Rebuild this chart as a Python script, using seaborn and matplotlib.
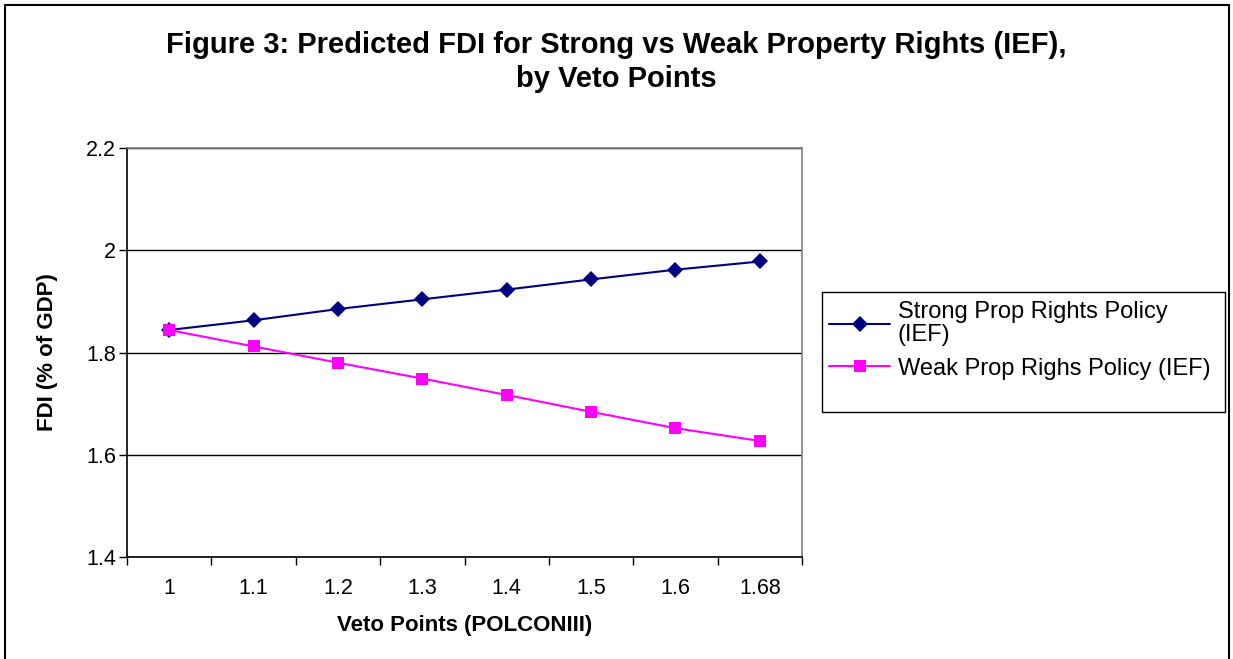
import matplotlib
matplotlib.use("Agg")
import matplotlib.pyplot as plt
import seaborn as sns
import pandas as pd
from matplotlib.patches import Rectangle
from matplotlib.ticker import FixedLocator

veto_points = ["1", "1.1", "1.2", "1.3", "1.4", "1.5", "1.6", "1.68"]
strong_fdi = [1.844, 1.863, 1.885, 1.904, 1.923, 1.943, 1.962, 1.978]
weak_fdi = [1.844, 1.812, 1.780, 1.749, 1.717, 1.684, 1.652, 1.627]
series_names = ["Strong Prop Rights Policy\n(IEF)", "Weak Prop Righs Policy (IEF)"]
y_ticks = [1.4, 1.6, 1.8, 2.0, 2.2]
y_tick_labels = ["1.4", "1.6", "1.8", "2", "2.2"]

sns.set_theme(style="white")
plt.rcParams["font.family"] = ["Liberation Sans", "DejaVu Sans"]
plt.rcParams["text.color"] = "black"
plt.rcParams["axes.labelcolor"] = "black"
plt.rcParams["xtick.color"] = "black"
plt.rcParams["ytick.color"] = "black"

df = pd.DataFrame({
    "veto": veto_points * 2,
    "fdi": strong_fdi + weak_fdi,
    "series": [series_names[0]] * len(veto_points) + [series_names[1]] * len(veto_points),
})

W, H = 1233, 659
fig = plt.figure(figsize=(W / 100, H / 100), dpi=100)
ax = fig.add_axes([127 / W, 1 - 557 / H, (802 - 127) / W, (557 - 148) / H])

sns.lineplot(
    data=df, x="veto", y="fdi", hue="series", style="series",
    palette=["#000080", "#FF00FF"], markers=["D", "s"], dashes=False,
    markersize=8.5, linewidth=1.5, markeredgewidth=0, ax=ax, sort=False,
)

ax.set_xlim(-0.5, len(veto_points) - 0.5)
ax.set_ylim(1.4, 2.2)
ax.set_yticks(y_ticks)
ax.set_yticklabels(y_tick_labels)
ax.yaxis.grid(True, color="black", linewidth=1)
ax.xaxis.grid(False)
ax.set_axisbelow(True)

ax.xaxis.set_minor_locator(FixedLocator([i - 0.5 for i in range(len(veto_points) + 1)]))
ax.tick_params(axis="x", which="major", length=0, pad=15, labelsize=15.5, colors="black")
ax.tick_params(axis="x", which="minor", length=6, width=1, color="black", direction="out", bottom=True)
ax.tick_params(axis="y", which="major", length=6, width=1, color="black", direction="out",
               left=True, pad=2, labelsize=15.5, labelcolor="black")

for side in ["left", "bottom"]:
    ax.spines[side].set_color("black")
    ax.spines[side].set_linewidth(1.2)
for side in ["top", "right"]:
    ax.spines[side].set_color("#808080")
    ax.spines[side].set_linewidth(1.2)

ax.set_xlabel("Veto Points (POLCONIII)", fontsize=16, fontweight="bold", labelpad=12, color="black")
ax.set_ylabel("FDI (% of GDP)", fontsize=16, fontweight="bold", labelpad=20, color="black")

handles, labels = ax.get_legend_handles_labels()
leg = ax.legend(
    handles, labels, loc="upper left", bbox_to_anchor=(822 / W, 1 - 294 / H),
    bbox_transform=fig.transFigure, frameon=False,
    fontsize=17, handlelength=2.6, borderpad=0.3, borderaxespad=0, labelspacing=0.5,
    handletextpad=0.3,
)
for t in leg.get_texts():
    t.set_linespacing(1.05)
    t.set_color("black")

# legend frame (Excel-style box with extra space below the entries)
fig.patches.append(Rectangle((822 / W, 1 - 412 / H), (1225 - 822) / W, (412 - 292) / H,
                             transform=fig.transFigure, fill=False, edgecolor="black",
                             linewidth=1.0, zorder=5))

fig.text(0.5, 1 - 62 / H,
         "Figure 3: Predicted FDI for Strong vs Weak Property Rights (IEF),\nby Veto Points",
         ha="center", va="center", fontsize=21, fontweight="bold", linespacing=1.25,
         color="black")

fig.patches.append(Rectangle((5 / W, -0.01), 1224 / W, 1 - 5 / H + 0.01,
                             transform=fig.transFigure, fill=False, edgecolor="black",
                             linewidth=1.5))

fig.savefig("out.png", dpi=100)
